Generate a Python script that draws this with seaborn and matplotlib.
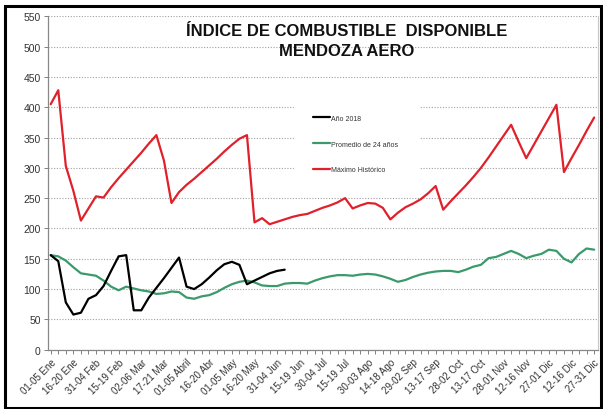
import matplotlib
matplotlib.use("Agg")
import matplotlib.pyplot as plt
import seaborn as sns
import numpy as np
import pandas as pd
from matplotlib.patches import Rectangle

# ---- data ----
tick_labels = ["01-05 Ene", "16-20 Ene", "31-04 Feb", "15-19 Feb", "02-06 Mar", "17-21 Mar",
               "01-05 Abril", "16-20 Abr", "01-05 May", "16-20 May", "31-04 Jun", "15-19 Jun",
               "30-04 Jul", "15-19 Jul", "30-03 Ago", "14-18 Ago", "29-02 Sep", "13-17 Sep",
               "28-02 Oct", "13-17 Oct", "28-01 Nov", "12-16 Nov", "27-01 Dic", "12-16 Dic",
               "27-31 Dic"]

maximo = [405, 428, 303, 262, 213, 233, 253, 251, 268, 283, 297, 311, 325, 340, 354,
          312, 242, 260, 272, 282, 293, 304, 315, 327, 338, 348, 354,
          210, 217, 207, 211, 215, 219, 222, 224, 229, 234, 238, 243, 250, 233, 238,
          242, 241, 234, 215, 226, 235, 241, 248, 258, 270, 231,
          245, 258, 271, 285, 300, 317, 335, 353, 371, 343, 316, 338, 360, 382, 404,
          293, 316, 338, 361, 383]

promedio = [156, 154, 147, 136, 126, 124, 122, 114, 104, 98, 104, 101, 98, 96, 92, 93,
            96, 95, 86, 84, 88, 90, 95, 102, 108, 112, 114, 111, 106, 105, 105, 109, 110,
            110, 109, 114, 118, 121, 123, 123, 122, 124, 125, 124, 121, 117, 112, 115,
            120, 124, 127, 129, 130, 130, 128, 132, 137, 140, 151, 153, 158, 163, 158,
            151, 155, 158, 165, 163, 150, 144, 158, 167, 165]

anio2018 = [156, 146, 78, 58, 61, 84, 90, 105, 130, 154, 156, 65, 65, 86, 102, 118, 135,
            152, 104, 100, 108, 119, 131, 141, 145, 140, 108, 114, 120, 126, 130, 132]

series_names = ["Año 2018", "Promedio de 24 años", "Máximo Histórico"]
colors = ["#000000", "#3a9a6c", "#e0202a"]

# ---- figure ----
sns.set_style("white")
plt.rcParams['font.family'] = ['Liberation Sans', 'DejaVu Sans']

fig = plt.figure(figsize=(6.03, 4.10), dpi=100)
ax = fig.add_axes([47.7 / 603, 1 - 350.7 / 410, (597.7 - 47.7) / 603, (350.7 - 17.3) / 410])

n = len(maximo)
x_all = np.arange(n)
x_18 = np.arange(len(anio2018))

sns.lineplot(x=x_all, y=maximo, ax=ax, color=colors[2], lw=1.6, label=series_names[2], zorder=3)
sns.lineplot(x=x_all, y=promedio, ax=ax, color=colors[1], lw=1.6, label=series_names[1], zorder=3)
sns.lineplot(x=x_18, y=anio2018, ax=ax, color=colors[0], lw=1.6, label=series_names[0], zorder=4)

ax.set_xlim(-0.4, n - 1 + 0.47)
ax.set_ylim(0, 550)
ax.set_yticks(np.arange(0, 551, 50))
ax.yaxis.grid(True, linestyle=(0, (1, 1.5)), color="#a0a0a0", lw=0.8)
ax.xaxis.grid(False)
ax.set_axisbelow(True)

ax.set_xticks(x_all)
lbls = [""] * n
for k, t in enumerate(tick_labels):
    lbls[k * 3] = t
ax.set_xticklabels(lbls, rotation=45, ha="right", rotation_mode="anchor")
ax.tick_params(axis="x", which="major", length=3, width=0.7, color="#808080",
               labelsize=7, labelcolor="#333333", pad=2, direction="out", bottom=True)
ax.tick_params(axis="y", length=3, width=0.7, color="#808080", labelsize=7.5,
               labelcolor="#333333", pad=2, direction="out", left=True)

for s in ["left", "bottom"]:
    ax.spines[s].set_color("#888888")
    ax.spines[s].set_linewidth(0.9)
ax.spines["right"].set_color("#c8c8c8")
ax.spines["right"].set_linewidth(0.8)
ax.spines["top"].set_visible(False)

ax.set_xlabel("")
ax.set_ylabel("")

# legend in specified order
handles, labels = ax.get_legend_handles_labels()
order = [labels.index(nm) for nm in series_names]
leg = ax.legend([handles[i] for i in order], [labels[i] for i in order],
                loc="center", bbox_to_anchor=((356 - 47.7) / 550, (351 - 145) / 334),
                fontsize=5, frameon=True, facecolor="white", edgecolor="white",
                framealpha=1, handlelength=2.4, handletextpad=0.2, labelspacing=2.7,
                borderpad=2.8, borderaxespad=0)
for t in leg.get_texts():
    t.set_color("#333333")
leg.set_zorder(5)

# title
fig.text(347 / 603, 1 - 32 / 410, "ÍNDICE DE COMBUSTIBLE  DISPONIBLE", ha="center", va="center",
         fontsize=12, fontweight="bold", color="#111111")
fig.text(347 / 603, 1 - 52 / 410, "MENDOZA AERO", ha="center", va="center",
         fontsize=12, fontweight="bold", color="#111111")

# outer frame
fig.patches.append(Rectangle((5 / 603, 1 / 410), (601 - 5) / 603, (403 - 1) / 410,
                             transform=fig.transFigure, fill=False, edgecolor="black",
                             lw=2.2, zorder=10))

fig.savefig("out.png", dpi=100)
